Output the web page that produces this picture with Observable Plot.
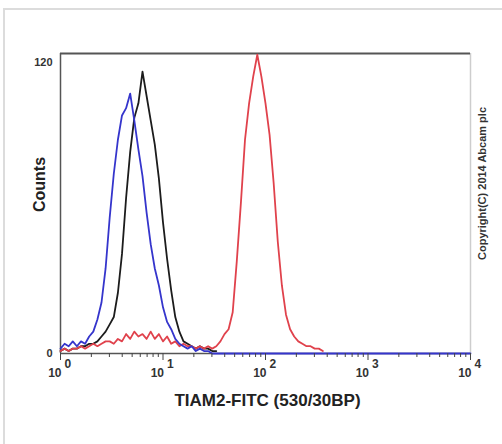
<!DOCTYPE html>
<html><head><meta charset="utf-8">
<script src="https://cdn.jsdelivr.net/npm/d3@7"></script>
<script src="https://cdn.jsdelivr.net/npm/@observablehq/plot@0.6"></script>
<style>
body{margin:0;background:#fff;}
#wrap{position:relative;width:502px;height:444px;overflow:hidden;background:#fff;}
#border{position:absolute;left:3px;top:8px;width:700px;height:700px;border-left:2px solid #dcdcdc;border-top:2px solid #dcdcdc;}
#wrap svg{position:absolute;left:0;top:0;}
</style></head><body><div id="wrap"><div id="border"></div></div>
<script>
// Fluorescence intensity (channel centres, log-spaced)
const intensity = [1, 1.096, 1.202, 1.318, 1.445, 1.585, 1.738, 1.905, 2.089, 2.291,
  2.512, 2.754, 3.020, 3.311, 3.631, 3.981, 4.365, 4.786, 5.248, 5.754,
  6.310, 6.918, 7.586, 8.318, 9.120, 10, 10.96, 12.02, 13.18, 14.45,
  15.85, 17.38, 19.05, 20.89, 22.91, 25.12, 27.54, 30.20, 33.11, 36.31,
  39.81, 43.65, 47.86, 52.48, 57.54, 63.10, 69.18, 75.86, 83.18, 91.20,
  100, 109.6, 120.2, 131.8, 144.5, 158.5, 173.8, 190.5, 208.9, 229.1,
  251.2, 275.4, 302.0, 331.1, 363.1, 398.1, 1000, 10000];
// Blue histogram (counts)
const blueCounts = [2, 4, 3, 5, 3, 5, 4, 7, 9, 14,
  21, 35, 56, 74, 88, 98, 101, 107, 96, 84,
  73, 58, 45, 35, 28, 19, 13, 10, 6, 4,
  3, 2, 3, 1, 2, 1, 1, 0, 0, 0,
  0, 0, 0, 0, 0, 0, 0, 0, 0, 0,
  0, 0, 0, 0, 0, 0, 0, 0, 0, 0,
  0, 0, 0, 0, 0, 0, 0, 0];
// Black histogram (counts)
const blackCounts = [1, 2, 1, 2, 2, 3, 3, 4, 4, 5,
  7, 9, 12, 15, 25, 41, 64, 83, 97, 103,
  116, 106, 96, 86, 72, 54, 39, 26, 15, 9,
  5, 4, 3, 2, 3, 2, 2, 1, 1, null,
  null, null, null, null, null, null, null, null, null, null,
  null, null, null, null, null, null, null, null, null, null,
  null, null, null, null, null, null, null, null];
// Red histogram (counts)
const redCounts = [1, 2, 1, 2, 2, 3, 2, 3, 4, 3,
  4, 5, 5, 4, 6, 5, 8, 6, 9, 7,
  8, 6, 9, 6, 8, 5, 7, 4, 5, 3,
  4, 3, 3, 2, 3, 2, 3, 2, 3, 5,
  8, 10, 17, 38, 62, 88, 103, 114, 123, 114,
  103, 90, 70, 46, 28, 16, 10, 7, 5, 4,
  3, 3, 2, 2, 1, null, null, null];

const majorTicks = [1, 10, 100, 1000, 10000];
const exponentLabels = ["0", "1", "2", "3", "4"];
const minorTicks = [2,3,4,5,6,7,8,9,20,30,40,50,60,70,80,90,200,300,400,500,600,700,800,900,2000,3000,4000,5000,6000,7000,8000,9000];
const yTicks = [0, 120];
const yMax = 123.5;

const rows = (counts) => intensity.map((x, i) => ({x, y: counts[i]}));
const font = "'Liberation Sans', Arial, sans-serif";

const chart = Plot.plot({
  width: 502, height: 444,
  marginLeft: 60, marginRight: 32, marginTop: 53, marginBottom: 91,
  style: {background: "transparent", fontFamily: font, overflow: "visible"},
  x: {type: "log", domain: [1, 10000]},
  y: {domain: [0, yMax]},
  marks: [
    Plot.ruleX([10000], {stroke: "#cdcdcd", strokeWidth: 1.5}),
    Plot.ruleY([yMax], {stroke: "#555", strokeWidth: 2}),
    Plot.ruleX([1], {stroke: "#555", strokeWidth: 1.5}),
    Plot.ruleY([0], {stroke: "#555", strokeWidth: 1.5}),
    Plot.line(rows(blackCounts), {x: "x", y: "y", stroke: "#1c1c1c", strokeWidth: 1.8}),
    Plot.line(rows(redCounts), {x: "x", y: "y", stroke: "#e0424c", strokeWidth: 1.8}),
    Plot.line(rows(blueCounts), {x: "x", y: "y", stroke: "#3535cc", strokeWidth: 1.8}),
    Plot.axisY({ticks: yTicks, tickSize: 0, tickPadding: 8, label: null, fontSize: 11, fontWeight: "bold", fill: "#333"}),
    Plot.axisX({ticks: majorTicks, tickSize: 7, tickFormat: () => "", label: null, stroke: "#444"}),
    Plot.axisX({ticks: minorTicks, tickSize: 4, tickFormat: () => "", label: null, stroke: "#444"}),
    Plot.text(majorTicks, {x: d => d, frameAnchor: "bottom", text: () => "10", textAnchor: "end", lineAnchor: "middle", dx: 1, dy: 20, fontSize: 12, fontWeight: "bold", fill: "#333"}),
    Plot.text(majorTicks, {x: d => d, frameAnchor: "bottom", text: (d, i) => exponentLabels[i], textAnchor: "start", lineAnchor: "middle", dx: 4, dy: 11, fontSize: 12, fontWeight: "bold", fill: "#333"}),
    Plot.text(["Counts"], {frameAnchor: "left", text: d => d, rotate: -90, textAnchor: "middle", lineAnchor: "middle", dx: -21, dy: -19, fontSize: 16, fontWeight: "bold", fill: "#222"}),
    Plot.text(["TIAM2-FITC (530/30BP)"], {frameAnchor: "bottom", text: d => d, textAnchor: "middle", lineAnchor: "middle", dx: 2, dy: 47, fontSize: 17, fontWeight: "bold", fill: "#222"}),
    Plot.text(["Copyright(C) 2014 Abcam plc"], {frameAnchor: "right", text: d => d, rotate: -90, textAnchor: "middle", lineAnchor: "middle", dx: 12, dy: -20, fontSize: 11, fontWeight: "bold", fill: "#333"})
  ]
});
document.getElementById("wrap").appendChild(chart);
</script>
</body></html>
